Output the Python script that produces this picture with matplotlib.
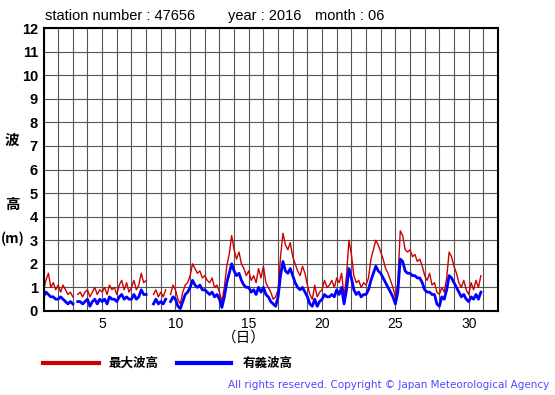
import numpy as np
import matplotlib
matplotlib.use('Agg')
import matplotlib.pyplot as plt
from matplotlib.lines import Line2D

plt.rcParams['font.family'] = ['Liberation Sans', 'Noto Sans CJK JP', 'DejaVu Sans']

nan = np.nan
# Valores a cada 4 horas (6 por dia), dias 1 a 30
max_wave = [
    0.9, 1.3, 1.6, 1.0, 1.2, 0.9,   # 1
    1.1, 0.8, 1.1, 0.9, 0.7, 0.8,   # 2
    0.6, nan, 0.7, 0.8, 0.6, 0.8,   # 3
    0.9, 0.6, 0.8, 1.0, 0.7, 0.9,   # 4
    0.8, 1.0, 0.7, 1.1, 0.9, 1.0,   # 5
    0.7, 1.1, 1.3, 0.9, 1.2, 0.8,   # 6
    1.0, 1.3, 0.9, 1.1, 1.6, 1.2,   # 7
    1.3, nan, nan, 0.7, 0.9, 0.6,   # 8
    0.8, 0.6, 0.9, nan, 0.7, 1.1,   # 9
    0.9, 0.5, 0.3, 0.8, 1.1, 1.2,   # 10
    1.5, 2.0, 1.8, 1.6, 1.7, 1.4,   # 11
    1.5, 1.3, 1.2, 1.4, 1.0, 1.1,   # 12
    0.8, 0.4, 1.0, 1.9, 2.4, 3.2,   # 13
    2.6, 2.2, 2.5, 2.0, 1.8, 1.5,   # 14
    1.7, 1.3, 1.5, 1.2, 1.8, 1.4,   # 15
    1.9, 1.2, 1.0, 0.8, 0.5, 0.6,   # 16
    0.9, 2.3, 3.3, 2.8, 2.6, 2.9,   # 17
    2.3, 2.0, 1.7, 1.5, 1.9, 1.6,   # 18
    1.1, 0.7, 0.5, 1.1, 0.6, 0.8,   # 19
    0.9, 1.3, 1.0, 1.1, 1.3, 1.0,   # 20
    1.4, 1.2, 1.6, 0.6, 1.5, 3.0,   # 21
    2.4, 1.5, 1.2, 1.3, 1.0, 1.2,   # 22
    1.1, 1.4, 2.2, 2.6, 3.0, 2.8,   # 23
    2.5, 2.2, 1.8, 1.6, 1.3, 1.0,   # 24
    0.6, 1.2, 3.4, 3.2, 2.6, 2.5,   # 25
    2.6, 2.3, 2.4, 2.1, 2.2, 1.9,   # 26
    1.5, 1.3, 1.6, 1.1, 1.2, 0.8,   # 27
    0.7, 1.0, 0.8, 1.4, 2.5, 2.3,   # 28
    1.9, 1.6, 1.2, 1.0, 1.3, 0.9,   # 29
    0.7, 1.2, 0.9, 1.3, 1.0, 1.5,   # 30
]
sig_wave = [
    0.6, 0.8, 0.7, 0.6, 0.6, 0.5,   # 1
    0.5, 0.6, 0.5, 0.4, 0.3, 0.4,   # 2
    0.3, nan, 0.4, 0.4, 0.3, 0.4,   # 3
    0.5, 0.2, 0.4, 0.5, 0.3, 0.5,   # 4
    0.4, 0.5, 0.3, 0.6, 0.5, 0.5,   # 5
    0.4, 0.6, 0.7, 0.5, 0.6, 0.5,   # 6
    0.5, 0.7, 0.5, 0.6, 0.9, 0.7,   # 7
    0.7, nan, nan, 0.3, 0.5, 0.3,   # 8
    0.4, 0.3, 0.5, nan, 0.4, 0.6,   # 9
    0.5, 0.2, 0.1, 0.4, 0.7, 0.8,   # 10
    1.0, 1.3, 1.1, 1.0, 1.1, 0.9,   # 11
    0.9, 0.8, 0.7, 0.8, 0.6, 0.7,   # 12
    0.5, 0.15, 0.6, 1.2, 1.6, 2.0,  # 13
    1.7, 1.5, 1.6, 1.3, 1.1, 1.0,   # 14
    1.0, 0.8, 0.9, 0.7, 1.0, 0.8,   # 15
    1.0, 0.7, 0.6, 0.4, 0.3, 0.2,   # 16
    0.6, 1.5, 2.1, 1.7, 1.6, 1.8,   # 17
    1.5, 1.2, 1.0, 0.9, 1.0, 0.8,   # 18
    0.6, 0.3, 0.2, 0.5, 0.2, 0.4,   # 19
    0.5, 0.7, 0.6, 0.6, 0.7, 0.6,   # 20
    0.9, 0.7, 1.0, 0.3, 0.9, 1.8,   # 21
    1.4, 0.9, 0.7, 0.8, 0.6, 0.7,   # 22
    0.7, 0.9, 1.3, 1.6, 1.9, 1.7,   # 23
    1.6, 1.4, 1.2, 1.0, 0.8, 0.6,   # 24
    0.3, 0.8, 2.2, 2.1, 1.7, 1.6,   # 25
    1.6, 1.5, 1.5, 1.4, 1.4, 1.2,   # 26
    0.9, 0.8, 0.8, 0.7, 0.7, 0.3,   # 27
    0.2, 0.6, 0.5, 0.9, 1.5, 1.4,   # 28
    1.2, 1.0, 0.8, 0.6, 0.7, 0.5,   # 29
    0.4, 0.6, 0.5, 0.7, 0.5, 0.8,   # 30
]
dias = 1 + np.arange(len(max_wave)) / 6.0
xticks_lab = [5, 10, 15, 20, 25, 30]

fig = plt.figure(figsize=(5.55, 3.95), dpi=100)
ax = fig.add_axes([43.5 / 555, 84 / 395, 454.5 / 555, 283 / 395])

ax.plot(dias, max_wave, color='#cc0000', lw=1.0)
ax.plot(dias, sig_wave, color='#0000ff', lw=2.0)

ax.set_xlim(1, 32)
ax.set_ylim(0, 12)
ax.set_xticks(np.arange(1, 33))
ax.set_xticklabels([str(d) if d in xticks_lab else '' for d in range(1, 33)], fontsize=10)
ax.set_yticks(np.arange(0, 13))
ax.set_yticklabels([str(v) for v in range(13)], fontsize=10.5, fontweight='bold')
ax.tick_params(length=0, pad=4)
ax.grid(True, color='#555555', lw=0.8)
ax.set_axisbelow(True)
for s in ax.spines.values():
    s.set_linewidth(1.5)

# Textos
ty = 1 - 16 / 395
fig.text(45 / 555, ty, 'station number : 47656', fontsize=10.5, va='center', ha='left')
fig.text(228 / 555, ty, 'year : 2016', fontsize=10.5, va='center', ha='left')
fig.text(315 / 555, ty, 'month : 06', fontsize=10.5, va='center', ha='left')
cjk = ['Noto Sans CJK JP', 'DejaVu Sans']
fig.text(12 / 555, 1 - 140 / 395, '波', family=cjk, fontsize=10.5, fontweight='bold', ha='center', va='center')
fig.text(12 / 555, 1 - 204 / 395, '高', family=cjk, fontsize=10.5, fontweight='bold', ha='center', va='center')
fig.text(13 / 555, 1 - 239 / 395, '(m)', family=cjk, fontsize=10, fontweight='bold', ha='center', va='center')
fig.text(244 / 555, 1 - 338 / 395, '（日）', family=cjk, fontsize=10.5, ha='center', va='center')

# Legenda
fig.add_artist(Line2D([43 / 555, 99 / 555], [1 - 363 / 395] * 2, color='#cc0000', lw=3, transform=fig.transFigure))
fig.text(108 / 555, 1 - 363 / 395, '最大波高', family=cjk, fontsize=9, fontweight='bold', va='center')
fig.add_artist(Line2D([177 / 555, 231 / 555], [1 - 363 / 395] * 2, color='#0000ff', lw=3, transform=fig.transFigure))
fig.text(243 / 555, 1 - 363 / 395, '有義波高', family=cjk, fontsize=9, fontweight='bold', va='center')

fig.text(549 / 555, 1 - 385 / 395, 'All rights reserved. Copyright © Japan Meteorological Agency',
         family='DejaVu Sans', fontsize=7.5, color='#4a4aff', ha='right', va='center')

fig.savefig('out.png', dpi=100)
